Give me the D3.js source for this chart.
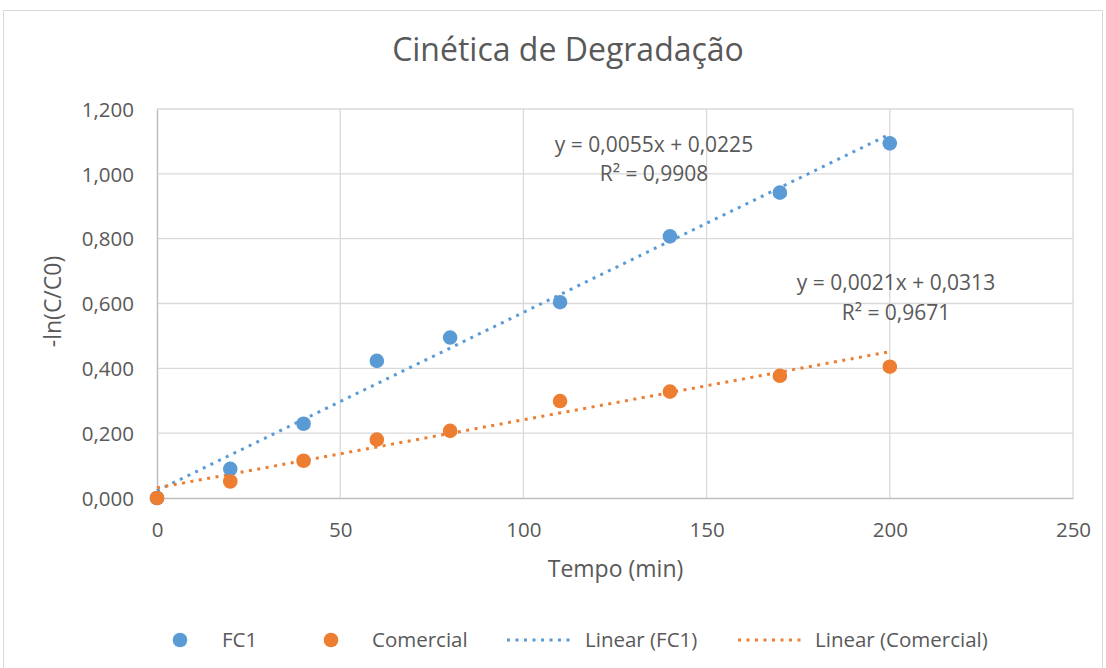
<!DOCTYPE html>
<html><head><meta charset="utf-8">
<script src="https://cdn.jsdelivr.net/npm/d3@7"></script>
<style>body{margin:0;background:#fff}svg{display:block}text{font-family:"Open Sans",sans-serif;fill:#595959}</style>
</head><body><svg id="c" width="1106" height="668"></svg>
<script>
const times = [0, 20, 40, 60, 80, 110, 140, 170, 200];
const fc1 = [0, 0.090, 0.229, 0.423, 0.495, 0.604, 0.807, 0.942, 1.094];
const comercial = [0, 0.051, 0.115, 0.180, 0.207, 0.299, 0.328, 0.377, 0.405];
const fitFC1 = [0.0055, 0.0225];
const fitComercial = [0.0021, 0.0313];
const r2Labels = ["0,9908", "0,9671"];
const xTicks = [0, 50, 100, 150, 200, 250];
const yTicks = [0, 0.2, 0.4, 0.6, 0.8, 1.0, 1.2];
const colors = {fc1: "#5b9bd5", com: "#ed7d31"};

const svg = d3.select("#c");
svg.append("rect").attr("x",3.5).attr("y",10.5).attr("width",1099).attr("height",670)
  .attr("fill","#fff").attr("stroke","#d9d9d9");

const x = d3.scaleLinear().domain([0,250]).range([157,1073]);
const y = d3.scaleLinear().domain([0,1.2]).range([498,109]);
const fmt = v => d3.format(",.3f")(v).replace(".", ",");

// grid
svg.append("g").selectAll("line").data(yTicks.slice(1)).join("line")
  .attr("x1",x(0)).attr("x2",x(250)).attr("y1",d=>y(d)).attr("y2",d=>y(d))
  .attr("stroke","#d9d9d9").attr("stroke-width",1.3);
svg.append("g").selectAll("line").data(xTicks.slice(1)).join("line")
  .attr("x1",d=>x(d)).attr("x2",d=>x(d)).attr("y1",y(0)).attr("y2",y(1.2))
  .attr("stroke","#d9d9d9").attr("stroke-width",1.3);

// axes
const xa = svg.append("g").attr("transform",`translate(0,${y(0)})`)
  .call(d3.axisBottom(x).tickValues(xTicks).tickSize(0).tickPadding(0));
xa.select(".domain").attr("stroke","#bfbfbf").attr("stroke-width",1.5);
xa.selectAll("text").style("font-size","20.5px").attr("fill","#595959").attr("y",39).attr("dy",0);
const ya = svg.append("g").attr("transform",`translate(${x(0)},0)`)
  .call(d3.axisLeft(y).tickValues(yTicks).tickFormat(fmt).tickSize(0).tickPadding(23));
ya.select(".domain").attr("stroke","#bfbfbf").attr("stroke-width",1.5);
ya.selectAll("text").style("font-size","20.5px").attr("fill","#595959").attr("dy","0.35em");

// trendlines
const dash = "3 5.5";
function trend(fit, color){
  const line = d3.line().x(d=>x(d)).y(d=>y(fit[0]*d+fit[1]));
  svg.append("path").attr("d", line([0,200])).attr("fill","none")
    .attr("stroke",color).attr("stroke-width",3).attr("stroke-dasharray",dash);
}
trend(fitFC1, colors.fc1);
trend(fitComercial, colors.com);

// points
function pts(vals, color){
  svg.append("g").selectAll("circle").data(vals).join("circle")
    .attr("cx",(d,i)=>x(times[i])).attr("cy",d=>y(d)).attr("r",7.3).attr("fill",color);
}
pts(fc1, colors.fc1);
pts(comercial, colors.com);

// equations
const f4 = v => d3.format(".4f")(v).replace(".", ",");
function eq(fit, r2, cx, cy1, cy2){
  svg.append("text").attr("x",cx).attr("y",cy1).attr("text-anchor","middle").style("font-size","21px")
    .text(`y = ${f4(fit[0])}x + ${f4(fit[1])}`);
  svg.append("text").attr("x",cx).attr("y",cy2).attr("text-anchor","middle").style("font-size","21px")
    .text(`R² = ${r2}`);
}
eq(fitFC1, r2Labels[0], 654, 152, 181);
eq(fitComercial, r2Labels[1], 896, 290, 320);

// titles
svg.append("text").attr("x",568).attr("y",61).attr("text-anchor","middle").style("font-size","32px").text("Cinética de Degradação");
svg.append("text").attr("x",615.5).attr("y",577).attr("text-anchor","middle").style("font-size","23px").text("Tempo (min)");
svg.append("text").attr("transform","translate(61,301.5) rotate(-90)").attr("text-anchor","middle").style("font-size","23px").text("-ln(C/C0)");

// legend
const lg = svg.append("g").style("font-size","20.5px");
lg.append("circle").attr("cx",180).attr("cy",640).attr("r",7.3).attr("fill",colors.fc1);
lg.append("text").attr("x",222).attr("y",647).text("FC1");
lg.append("circle").attr("cx",331).attr("cy",640).attr("r",7.3).attr("fill",colors.com);
lg.append("text").attr("x",372).attr("y",647).text("Comercial");
lg.append("line").attr("x1",507).attr("x2",574).attr("y1",640).attr("y2",640).attr("stroke",colors.fc1).attr("stroke-width",3).attr("stroke-dasharray",dash);
lg.append("text").attr("x",585).attr("y",647).text("Linear (FC1)");
lg.append("line").attr("x1",738).attr("x2",805).attr("y1",640).attr("y2",640).attr("stroke",colors.com).attr("stroke-width",3).attr("stroke-dasharray",dash);
lg.append("text").attr("x",815).attr("y",647).text("Linear (Comercial)");
</script></body></html>
